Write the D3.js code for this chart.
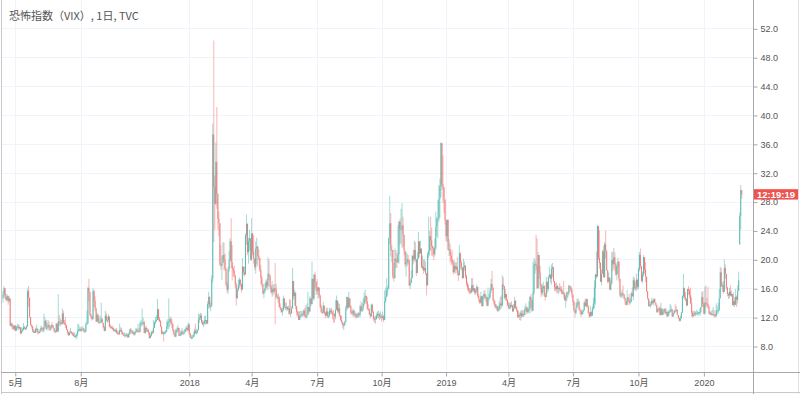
<!DOCTYPE html>
<html>
<head>
<meta charset="utf-8">
<script src="https://cdnjs.cloudflare.com/ajax/libs/d3/7.8.5/d3.min.js"></script>
<style>
body{margin:0;background:#fff;}
svg{display:block;font-family:"Liberation Sans",Arial,sans-serif;}
</style>
</head>
<body>
<div id="chart"></div>
<script>
var title="恐怖指数（VIX）, 1日, TVC";
var countdown="12:19:19";
var startDay="2017-04-12", endDay="2020-02-26";
// exchange holidays (no bar)
var holidays=["2017-04-14","2017-05-29","2017-07-04","2017-09-04","2017-11-23","2017-12-25",
"2018-01-01","2018-01-15","2018-02-19","2018-03-30","2018-05-28","2018-07-04","2018-09-03","2018-11-22","2018-12-05","2018-12-25",
"2019-01-01","2019-01-21","2019-02-18","2019-04-19","2019-05-27","2019-07-04","2019-09-02","2019-11-28","2019-12-25",
"2020-01-01","2020-01-20","2020-02-17"];

// daily closes, one line per month
var closes=[
15.1,16.0,14.7,14.4,14.9,14.2,14.6,10.8,11.1,10.8,10.4,10.8,
10.1,10.6,10.7,10.5,10.6,9.8,10.1,10.2,10.6,10.4,10.4,10.7,15.6,14.7,12.0,10.9,10.7,10.0,10.0,9.8,10.4,10.4,
9.9,9.8,10.1,10.5,10.4,10.2,10.7,11.5,10.4,10.6,10.9,10.4,10.4,10.9,10.8,10.5,10.0,9.9,11.1,10.0,11.4,11.2,
11.2,11.1,12.5,11.2,11.1,10.9,10.3,9.9,9.5,9.8,9.9,9.8,9.6,9.4,9.4,9.4,9.6,10.1,10.3,10.3,
10.1,10.3,10.4,10.0,10.0,11.0,11.1,16.0,15.5,12.3,12.0,11.7,15.6,14.3,13.2,11.4,12.3,11.3,11.3,11.3,11.7,11.2,10.6,
10.1,12.2,11.6,11.6,12.1,10.7,10.6,10.5,10.4,10.2,10.2,10.2,9.8,9.7,9.6,10.2,10.2,9.9,9.6,9.5,
9.5,9.5,9.6,9.2,9.7,10.3,10.1,9.9,9.9,9.6,9.9,10.3,10.1,10.1,10.0,11.1,11.2,11.2,11.3,9.8,10.5,10.2,
10.2,9.9,9.1,9.4,9.9,9.8,10.5,11.3,11.5,11.6,13.1,11.8,11.4,10.7,9.7,9.9,9.7,9.9,10.0,10.7,11.3,
11.4,11.7,11.3,11.0,10.2,9.6,9.3,10.2,10.2,10.5,9.4,9.5,10.0,9.7,9.7,9.9,10.3,10.5,10.2,11.0,
9.8,9.2,9.2,9.2,9.5,10.1,9.8,9.9,10.2,11.7,11.9,12.2,11.3,11.0,11.1,11.5,11.6,11.1,13.8,14.8,13.5,
13.5,17.3,37.3,30.0,27.7,33.5,29.1,25.6,25.0,19.3,19.1,19.5,20.6,20.0,18.7,16.5,15.8,18.6,19.9,
22.5,19.6,18.7,18.4,17.8,16.5,14.6,15.8,16.4,17.2,16.6,15.8,19.0,18.2,17.9,23.3,24.9,21.0,22.5,22.9,20.0,
23.6,21.1,20.1,18.9,21.5,21.8,20.5,20.2,18.5,17.4,16.6,15.3,15.6,16.0,16.9,16.3,18.0,17.8,16.2,15.4,15.9,
15.5,16.0,15.9,14.8,14.8,14.7,13.4,13.2,12.7,12.9,14.6,13.4,13.4,13.4,13.1,13.2,12.6,12.5,13.2,17.0,14.9,15.4,
13.5,12.7,12.4,11.6,12.1,12.2,12.4,12.3,12.9,12.1,12.0,12.3,13.4,12.8,14.6,13.8,17.3,14.6,17.9,16.9,16.1,
15.6,16.1,15.0,13.4,12.7,12.6,13.6,12.6,12.2,12.8,12.1,12.1,12.9,12.9,12.6,12.4,12.3,12.1,13.0,14.3,12.8,
13.2,12.2,11.6,11.3,10.9,10.9,11.3,13.2,14.8,13.3,14.6,13.5,12.6,12.5,12.9,12.3,12.4,12.0,12.2,12.5,12.3,13.5,12.9,
13.2,13.9,14.7,14.9,14.2,13.2,13.1,12.4,12.1,13.7,12.8,11.8,11.8,11.7,12.2,12.4,12.4,12.1,12.1,
12.0,12.1,11.6,14.2,14.8,15.7,16.0,23.0,25.0,21.3,21.3,17.6,17.4,20.1,19.9,19.6,20.7,25.2,24.2,24.2,24.7,23.4,21.2,
19.3,19.5,20.0,19.9,16.4,16.7,17.4,20.5,20.0,21.3,20.0,18.1,20.1,22.5,20.8,21.5,18.9,19.0,18.5,18.8,18.1,
16.4,20.7,21.2,23.2,22.6,21.8,21.5,20.7,21.6,24.5,25.6,25.6,28.4,30.1,36.1,30.4,30.0,28.3,25.4,
23.2,25.5,21.4,21.4,20.5,20.0,19.5,18.2,19.1,18.6,19.0,18.1,17.8,20.8,19.5,18.9,17.4,18.9,19.1,17.7,16.6,
16.1,15.7,15.6,15.4,16.4,15.7,16.0,15.4,15.7,16.2,14.9,14.5,14.0,14.9,13.5,14.9,15.2,14.7,14.8,
13.6,14.6,14.7,15.7,16.6,16.1,14.3,13.8,13.4,13.5,12.9,13.1,13.6,13.9,13.6,16.5,16.3,14.7,15.2,14.4,13.7,
13.4,13.4,13.7,13.6,12.8,13.2,14.3,13.3,13.0,12.0,12.3,12.2,12.6,12.1,12.4,12.3,13.1,13.3,12.7,13.1,13.1,
14.8,14.4,12.9,15.4,19.3,19.4,19.1,16.0,20.6,18.1,16.4,15.3,16.0,16.3,15.0,14.8,16.9,15.9,17.5,17.9,17.3,18.7,
18.9,17.0,16.1,15.9,16.3,15.9,16.0,15.9,15.8,15.3,15.4,15.2,14.3,14.8,15.4,15.3,16.3,16.2,15.8,15.1,
14.1,12.9,12.6,13.3,14.0,14.1,13.0,12.9,12.4,12.7,12.9,14.0,13.5,14.5,13.5,12.6,12.1,12.7,12.2,13.2,13.9,16.1,
17.9,17.6,24.6,20.2,19.5,16.9,18.0,21.1,17.5,22.1,21.2,18.5,16.9,17.5,15.8,16.7,19.9,19.3,20.3,19.4,17.9,19.0,
19.7,17.3,15.0,15.0,15.3,15.2,14.6,14.2,13.7,14.7,14.4,14.0,14.1,15.3,14.9,17.1,16.0,16.1,17.2,16.2,
18.6,20.6,19.1,17.0,17.9,20.3,18.6,17.6,15.6,14.6,13.5,13.7,13.8,14.3,14.0,14.5,14.0,13.7,12.7,13.1,13.2,12.3,13.2,
12.3,12.8,13.1,12.6,12.7,12.1,12.7,12.7,13.0,13.1,12.1,12.5,12.9,12.8,13.0,12.3,11.9,11.5,11.8,12.6,
14.9,16.0,14.8,14.5,13.6,15.9,15.7,15.0,13.9,12.6,12.1,12.3,12.6,12.5,12.5,12.6,12.7,12.7,13.4,14.8,13.8,
12.5,14.0,13.9,13.8,13.5,12.5,12.6,12.3,12.4,12.4,12.3,12.1,12.9,12.9,13.0,14.6,18.2,16.3,16.4,15.5,18.8,
18.0,16.1,15.2,15.0,15.5,15.0,15.2,13.7,14.2,13.7,14.8,14.4,15.6,17.1,26.0,29.6,29.0];

var highs=[
15.6,16.3,15.9,15.2,15.2,14.9,15.0,12.2,11.3,11.1,10.9,10.9,
10.9,10.8,11.1,11.0,10.9,10.3,10.6,10.5,11.2,10.8,10.6,10.9,15.9,16.3,13.6,11.5,11.0,10.8,10.3,10.3,10.6,11.0,
10.4,10.0,10.3,10.8,10.7,10.6,12.5,12.0,11.6,11.2,11.6,11.4,10.7,11.0,11.3,10.9,10.5,10.2,11.2,11.1,15.2,12.3,
11.8,11.6,13.2,12.9,11.6,12.0,10.7,10.2,10.0,10.1,10.5,10.1,9.9,9.9,9.9,9.6,9.8,11.0,11.1,10.7,
10.6,10.6,10.8,10.5,10.3,11.3,12.9,16.2,17.3,14.4,12.5,12.2,16.0,15.8,14.9,13.3,12.6,12.4,11.9,12.2,14.0,11.9,11.2,
10.8,12.9,12.6,12.0,12.4,11.2,11.0,10.8,10.8,10.6,10.4,10.4,10.5,10.1,10.1,11.1,10.6,10.5,10.0,9.8,
9.9,9.7,9.8,9.7,9.9,10.4,10.5,10.2,10.2,10.0,10.0,10.5,10.4,11.1,10.5,11.4,11.6,13.2,11.9,11.5,10.7,10.8,
10.5,10.4,9.9,9.7,10.1,10.2,11.6,11.4,12.0,12.3,14.5,12.6,12.0,11.6,10.7,10.1,9.9,10.1,10.2,11.5,11.7,
14.6,11.9,12.1,11.8,11.1,10.3,9.9,10.4,10.6,10.9,10.5,9.8,10.2,10.5,10.1,10.3,10.4,10.8,10.7,11.3,
10.0,9.7,9.5,9.5,9.7,10.4,11.1,10.4,10.3,12.5,12.4,12.6,12.5,11.6,11.5,12.2,12.2,11.6,14.2,15.5,14.9,
14.1,17.8,38.8,50.3,31.6,36.2,41.1,28.4,26.6,24.9,22.0,20.5,22.4,22.3,20.8,18.8,16.9,19.0,21.2,
22.9,25.7,22.0,19.0,19.1,17.6,16.8,16.0,17.2,17.5,17.1,16.3,20.2,18.9,19.0,23.6,26.2,25.0,23.0,24.1,22.7,
25.7,23.4,23.3,19.7,22.5,23.0,21.2,21.4,20.2,19.2,17.7,16.4,15.9,16.7,17.2,17.3,20.3,20.0,17.8,16.5,17.0,
16.5,16.6,19.5,16.6,15.2,15.3,14.9,13.9,13.3,13.3,15.0,14.5,14.0,14.0,13.5,13.6,14.5,14.4,13.5,18.8,16.9,15.8,
14.3,13.2,12.9,12.8,12.8,12.9,12.8,12.9,13.1,13.3,13.6,13.9,15.5,13.4,14.9,14.1,19.7,17.3,17.9,18.3,16.6,
17.3,16.2,16.0,15.1,13.7,13.1,14.1,13.6,12.7,13.3,13.3,12.7,13.3,13.2,13.3,12.9,13.0,12.6,14.4,15.0,14.3,
14.0,13.8,12.3,12.2,11.3,11.2,11.5,13.6,14.8,14.6,15.5,14.3,13.6,12.9,13.2,13.0,12.8,12.6,12.5,12.7,12.6,13.7,14.2,
13.9,14.5,15.4,15.8,15.0,14.8,13.8,13.2,12.6,13.8,13.9,12.8,12.1,12.2,12.6,12.8,12.9,12.6,12.8,
12.4,12.7,12.3,15.7,16.1,17.4,16.4,23.0,28.8,26.4,22.0,21.0,19.5,21.5,21.3,20.9,24.7,25.3,25.6,27.0,27.8,25.9,22.6,
21.0,21.0,20.8,20.6,19.8,17.2,18.5,20.6,21.3,22.6,22.4,19.7,21.0,23.8,22.1,22.6,20.2,20.5,20.0,20.0,19.7,
16.5,21.0,25.9,23.9,25.9,24.4,21.9,21.7,22.9,26.6,25.9,28.2,30.3,31.2,36.2,36.1,34.4,28.9,27.5,
25.1,25.5,25.0,22.8,22.2,21.0,21.3,19.9,19.9,19.6,19.6,20.3,18.5,22.0,21.0,19.8,18.2,20.1,19.7,19.2,17.9,
16.9,16.5,16.0,16.0,17.4,17.4,16.5,15.9,15.9,16.5,16.0,15.2,14.5,15.5,14.8,15.1,15.6,15.8,15.2,
14.8,16.1,15.2,16.0,17.3,18.4,15.8,14.5,14.2,13.8,13.6,13.5,14.2,14.8,15.0,17.8,17.5,16.2,15.9,15.1,14.5,
14.1,14.0,14.0,14.2,13.7,13.8,14.8,14.2,13.5,12.9,12.8,12.6,12.9,13.0,13.0,12.9,13.5,13.9,13.5,13.4,14.2,
14.9,15.2,14.4,19.7,20.2,19.9,23.4,22.9,21.0,20.4,19.1,16.6,16.6,16.9,16.4,15.4,17.6,16.9,17.7,19.0,17.8,19.3,
19.5,18.1,17.0,16.7,16.8,16.5,16.2,16.7,16.3,16.3,15.8,17.0,15.4,15.0,15.6,15.5,16.5,16.4,16.3,16.0,
15.0,14.3,13.0,14.0,14.5,14.6,14.3,13.2,12.8,13.1,13.0,14.2,14.5,14.6,14.3,13.7,12.7,13.5,12.8,13.5,14.7,17.1,
18.0,21.1,24.8,24.6,24.0,19.6,18.6,21.3,21.9,22.4,24.0,21.1,17.7,18.2,17.3,17.2,21.0,21.1,21.6,21.0,19.6,19.2,
20.2,19.2,16.2,15.5,15.8,16.4,15.2,14.8,14.2,15.8,14.8,15.2,14.6,15.5,16.1,17.6,17.5,16.9,18.0,17.1,
18.8,21.0,21.5,18.9,18.3,20.6,19.6,19.6,16.8,15.6,14.6,14.3,14.1,14.7,14.3,14.6,14.6,14.0,13.7,13.2,13.4,13.5,14.0,
13.0,13.0,13.2,13.2,13.3,12.8,13.0,12.9,13.8,13.6,12.7,12.6,13.0,13.8,13.5,13.1,12.3,11.9,12.2,12.7,
15.0,18.0,16.1,15.5,14.6,15.9,16.3,15.9,16.1,14.7,12.9,12.8,12.9,12.8,13.0,12.9,12.7,13.2,13.4,15.5,15.6,
14.1,16.2,16.4,14.7,16.2,13.3,12.8,12.8,13.0,13.4,13.0,12.5,13.9,13.5,14.0,15.9,19.0,18.8,16.8,17.0,20.0,
19.3,17.6,16.2,15.4,16.0,16.4,15.7,15.0,15.4,14.8,15.9,15.0,16.4,18.3,26.5,30.3,29.6];

var lows=[
14.0,15.0,14.5,14.2,14.2,13.7,14.0,10.8,10.6,10.3,10.2,10.2,
10.1,10.1,10.3,10.2,10.3,9.6,9.6,9.9,10.2,10.3,10.2,10.3,10.7,13.4,11.9,10.8,10.4,9.9,9.8,9.8,10.0,10.0,
9.6,9.7,9.9,10.0,10.0,9.9,9.9,10.9,10.3,10.1,10.6,10.1,10.1,10.2,10.5,10.4,10.0,9.8,9.9,10.0,10.2,10.8,
10.7,10.9,11.0,11.0,10.9,10.5,10.2,9.6,9.4,9.5,9.8,9.6,9.4,9.3,9.2,9.1,8.9,9.3,10.0,10.0,
10.0,10.0,10.3,9.9,9.9,9.9,10.9,12.0,14.2,12.2,11.8,11.5,11.8,13.4,12.8,11.3,11.3,11.2,11.0,11.2,11.4,11.1,10.4,
10.0,10.5,11.4,11.2,11.3,10.6,10.4,10.4,10.2,10.0,10.0,9.9,9.7,9.6,9.6,9.9,10.0,9.6,9.5,9.4,
9.2,9.2,9.3,9.1,9.2,9.6,9.7,9.7,9.6,9.4,9.5,9.8,9.9,9.9,9.8,9.9,10.7,10.8,10.9,9.8,9.7,9.9,
9.9,9.6,9.0,9.1,9.3,9.6,9.8,10.5,11.0,11.3,11.8,11.5,11.3,10.6,9.6,9.6,8.6,9.6,9.7,9.9,10.4,
10.3,10.6,11.0,10.5,10.0,9.5,9.2,9.4,9.8,9.9,9.4,9.4,9.4,9.6,9.6,9.6,10.1,10.0,10.0,10.1,
9.5,9.1,8.9,9.0,9.2,9.3,9.7,9.6,9.7,10.5,11.2,11.6,11.1,10.9,10.6,11.0,11.0,11.0,11.1,13.2,13.2,
12.8,13.5,16.8,22.4,24.1,27.5,27.0,24.1,23.2,19.1,18.6,17.1,19.7,18.5,18.4,16.3,15.4,15.2,18.3,
19.8,18.8,17.1,17.6,17.5,16.0,13.6,14.6,15.6,16.0,16.2,15.4,16.8,17.8,17.6,18.1,22.0,20.6,19.4,21.2,19.8,
19.8,20.6,19.4,18.5,18.0,19.3,19.0,19.9,18.3,16.5,16.2,15.1,14.6,15.3,15.7,16.0,15.7,17.1,15.9,15.3,14.8,
15.0,15.3,11.0,14.6,14.4,13.9,13.3,12.9,12.6,12.2,13.4,13.2,13.0,12.9,12.9,12.4,12.3,12.0,12.5,15.3,14.4,13.6,
13.1,12.2,12.0,11.6,11.6,11.9,12.1,12.0,12.2,12.0,11.8,11.9,12.6,12.5,12.7,13.5,14.2,14.4,14.3,15.7,15.1,
15.1,14.6,14.6,13.2,12.6,12.4,13.0,12.4,11.8,12.2,11.9,11.8,12.1,12.4,12.4,11.7,11.2,11.3,11.7,13.0,12.6,
12.4,12.0,11.4,11.1,10.5,10.2,10.8,11.6,12.9,13.1,13.3,13.3,12.4,12.3,12.1,12.0,12.1,11.8,11.9,11.9,12.0,12.0,12.7,
12.7,12.9,13.6,13.9,13.8,13.0,12.9,12.3,11.8,12.1,12.6,11.5,11.2,11.1,11.7,11.9,11.8,11.6,11.8,
11.4,11.7,11.3,11.6,14.0,15.2,15.0,15.9,22.1,20.4,19.6,17.3,16.9,17.8,18.8,18.8,19.5,19.4,22.0,22.2,21.6,21.7,20.6,
18.9,17.6,19.0,19.3,16.3,15.9,16.8,17.9,19.3,19.7,19.7,17.7,18.2,20.7,20.3,21.0,18.8,18.5,18.0,18.3,17.8,
15.0,16.7,20.2,20.5,21.2,20.5,20.4,19.9,20.4,21.3,23.2,22.9,25.2,25.8,28.6,29.6,27.8,26.4,24.8,
22.5,22.4,21.2,20.5,19.6,19.2,19.3,17.9,18.4,18.0,18.5,17.8,17.0,18.0,18.6,18.5,17.3,17.9,18.4,17.3,16.3,
15.7,15.4,15.2,15.2,15.7,15.5,15.5,15.1,15.1,15.3,14.7,14.1,13.8,13.9,13.5,13.5,14.5,14.4,14.1,
13.5,13.5,14.3,14.6,15.3,15.7,14.2,13.6,13.2,13.1,12.8,12.7,12.9,13.0,13.2,13.5,15.8,14.5,14.3,14.2,13.5,
13.1,13.1,13.1,13.3,12.7,12.9,13.2,13.1,12.7,11.9,11.9,11.6,11.5,11.9,12.2,12.0,12.3,12.8,12.4,12.5,12.6,
12.5,13.3,12.7,13.6,15.1,18.0,18.5,15.9,17.2,17.3,15.9,14.8,15.0,15.5,14.8,14.3,15.6,15.3,15.6,17.4,16.8,16.5,
17.5,16.8,15.6,15.6,15.4,15.3,15.2,15.5,15.5,15.2,15.1,14.6,14.3,13.3,14.2,14.6,15.0,15.5,15.5,14.7,
13.6,12.8,11.9,12.4,13.4,13.6,13.0,12.4,12.0,12.3,12.4,12.9,13.5,13.3,13.4,12.5,11.9,12.0,12.1,12.5,13.0,13.2,
13.7,17.3,17.8,19.9,18.7,16.9,16.4,18.5,17.5,18.2,20.1,18.4,16.7,16.8,15.8,15.7,16.5,18.4,18.7,18.4,17.7,17.1,
17.9,16.9,14.8,14.7,14.6,14.9,14.5,13.7,13.6,14.5,14.1,13.6,13.8,14.1,14.8,14.3,15.7,15.7,15.6,15.8,
15.9,18.3,18.7,16.9,16.7,17.6,18.0,16.8,15.5,14.4,13.5,13.6,13.3,13.6,13.8,13.6,14.0,13.5,12.6,12.6,12.9,12.2,12.3,
12.2,12.3,12.5,12.4,12.3,12.0,12.4,12.2,12.6,12.7,12.0,12.0,12.4,12.6,12.8,12.3,11.8,11.4,11.4,12.0,
12.8,14.6,14.4,14.2,13.6,13.9,15.1,14.6,13.8,12.1,11.9,12.1,12.2,12.1,12.4,12.2,12.3,12.2,12.4,13.4,13.4,
12.4,12.3,13.4,13.3,13.2,12.4,12.3,12.2,12.3,12.2,12.0,11.9,12.4,12.3,12.5,12.8,16.7,16.2,15.5,15.2,15.5,
17.3,15.8,14.9,14.5,14.6,14.9,14.8,13.6,13.5,13.4,14.5,13.4,13.9,15.9,22.0,24.1,28.4];

// opens follow the previous close except where the bar gapped
var openOverrides=[["2017-04-12",14.6],["2020-02-24",22.1]];

var tickMonths=["2017-05","2017-08","2018-01","2018-04","2018-07","2018-10","2019-01","2019-04","2019-07","2019-10","2020-01"];
var yTicks=[8,12,16,20,24,28,32,36,40,44,48,52];

var w=800, h=394;
var upColor="#26a69a", downColor="#ef5350";
var axisX=753.5, axisY=372.5;

var parse=d3.utcParse("%Y-%m-%d"), fmtDay=d3.utcFormat("%Y-%m-%d"), fmtMonth=d3.utcFormat("%Y-%m");
var days=d3.utcDays(parse(startDay),d3.utcDay.offset(parse(endDay),1)).filter(function(d){
  var wd=d.getUTCDay();
  return wd>0&&wd<6&&holidays.indexOf(fmtDay(d))<0;
});
var ov={};
openOverrides.forEach(function(o){ov[o[0]]=o[1];});

var data=days.map(function(d,i){
  var key=fmtDay(d);
  var o=(key in ov)?ov[key]:closes[i-1];
  var c=closes[i];
  return {i:i,date:d,o:o,c:c,h:Math.max(highs[i],o,c),l:Math.min(lows[i],o,c)};
});

var svg=d3.select("#chart").append("svg")
          .attr("width",w)
          .attr("height",h);

var x=d3.scaleLinear().domain([0,days.length+10]).range([3,753]);
var y=d3.scaleLinear().domain([8,52]).range([346,28.3]);

// grid
svg.append("g").selectAll("line")
   .data(yTicks).enter().append("line")
   .attr("x1",2).attr("x2",axisX)
   .attr("y1",function(d){return Math.round(y(d))+0.5;})
   .attr("y2",function(d){return Math.round(y(d))+0.5;})
   .attr("stroke","#f0f3fa");

var tickIdx=tickMonths.map(function(m){
  for(var i=0;i<days.length;i++){ if(fmtMonth(days[i])===m) return i; }
  return 0;
});
svg.append("g").selectAll("line")
   .data(tickIdx).enter().append("line")
   .attr("x1",function(d){return Math.round(x(d))+0.5;})
   .attr("x2",function(d){return Math.round(x(d))+0.5;})
   .attr("y1",0).attr("y2",axisY)
   .attr("stroke","#f0f3fa");

// candles
var candles=svg.append("g");
candles.selectAll("line")
   .data(data).enter().append("line")
   .attr("x1",function(d){return x(d.i);})
   .attr("x2",function(d){return x(d.i);})
   .attr("y1",function(d){return y(d.h);})
   .attr("y2",function(d){return y(d.l);})
   .attr("stroke",function(d){return d.c>=d.o?upColor:downColor;})
   .attr("stroke-opacity",0.42)
   .attr("stroke-width",1);
candles.selectAll("rect")
   .data(data).enter().append("rect")
   .attr("x",function(d){return x(d.i)-0.5;})
   .attr("width",1)
   .attr("y",function(d){return y(Math.max(d.o,d.c));})
   .attr("height",function(d){return Math.max(1,Math.abs(y(d.o)-y(d.c)));})
   .attr("fill",function(d){return d.c>=d.o?upColor:downColor;})
   .attr("fill-opacity",0.6);

// frame
svg.append("rect").attr("x",0).attr("y",axisY).attr("width",w).attr("height",h-axisY).attr("fill","#fff");
svg.append("rect").attr("x",axisX).attr("y",0).attr("width",w-axisX).attr("height",h).attr("fill","#fff");
svg.append("line").attr("x1",1.5).attr("x2",1.5).attr("y1",0).attr("y2",h).attr("stroke","#c8c8c8");
svg.append("line").attr("x1",798.5).attr("x2",798.5).attr("y1",0).attr("y2",h).attr("stroke","#e0e0e0");
svg.append("line").attr("x1",1).attr("x2",w).attr("y1",h-1.5).attr("y2",h-1.5).attr("stroke","#c8c8c8");

// axes
var yAxis=d3.axisRight(y).tickValues(yTicks).tickFormat(d3.format(".1f")).tickSize(4).tickPadding(3);
var gy=svg.append("g").attr("transform","translate("+axisX+",0.5)").call(yAxis);
gy.select(".domain").attr("stroke","#a8a8a8").attr("d","M0,-1V"+h);
gy.selectAll(".tick line").attr("stroke","#a8a8a8");
gy.selectAll("text").attr("fill","#555").attr("font-size","9px").attr("font-family","Liberation Sans, Arial, sans-serif");

var xAxis=d3.axisBottom(x).tickValues(tickIdx).tickSize(4).tickPadding(3)
   .tickFormat(function(i){
     var d=days[i];
     return d.getUTCMonth()===0?String(d.getUTCFullYear()):(d.getUTCMonth()+1)+"月";
   });
var gx=svg.append("g").attr("transform","translate(0,"+axisY+")").call(xAxis);
gx.select(".domain").attr("stroke","#a8a8a8").attr("d","M1,0H"+w);
gx.selectAll(".tick line").attr("stroke","#a8a8a8");
gx.selectAll("text").attr("fill","#555").attr("font-size","9px").attr("font-family","Liberation Sans, Noto Sans CJK JP, sans-serif");

// last price label (drawn over the 28.0 tick label, as in the source)
var last=data[data.length-1];
var ly=y(last.c);
svg.append("rect").attr("x",axisX+0.5).attr("y",ly-5.2).attr("width",44).attr("height",10.4)
   .attr("fill",last.c>=last.o?upColor:downColor);
svg.append("text").attr("x",axisX+22.5).attr("y",ly+3.3).attr("text-anchor","middle")
   .attr("fill","#fff").attr("font-size","9.5px").attr("font-weight","bold")
   .text(countdown);

// title
svg.append("text").attr("x",9).attr("y",20)
   .attr("fill","#555").attr("font-size","11px")
   .attr("font-family","Noto Sans CJK JP, sans-serif")
   .text(title);
</script>
</body>
</html>
